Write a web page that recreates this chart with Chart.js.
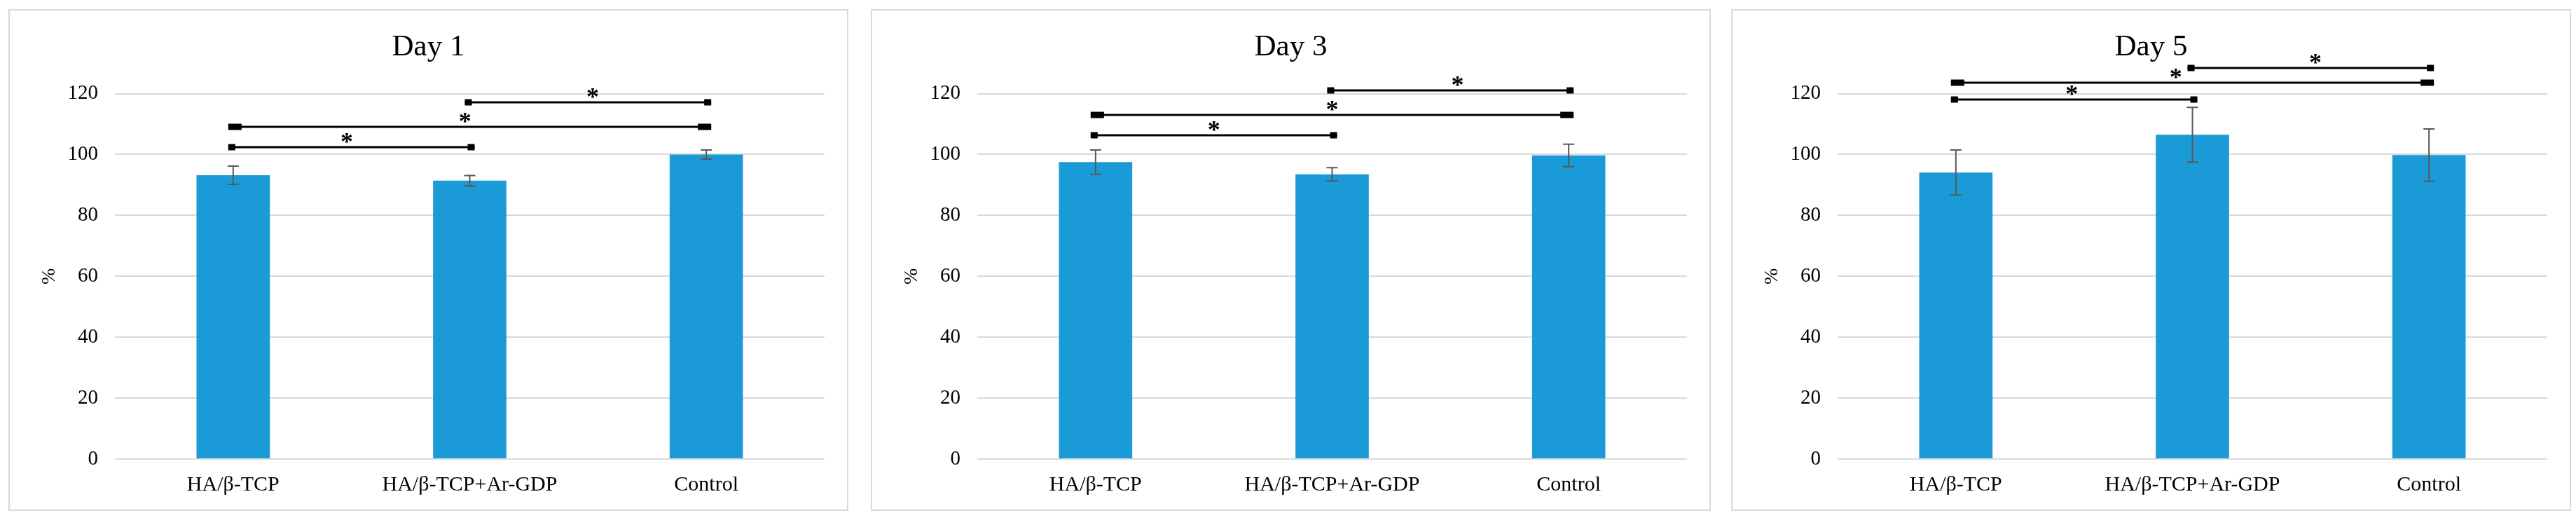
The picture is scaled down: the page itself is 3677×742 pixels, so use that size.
<!DOCTYPE html>
<html lang="en">
<head>
    <meta charset="UTF-8">
    <title>Cell viability Day 1 / Day 3 / Day 5</title>
    <script src="https://cdn.jsdelivr.net/npm/chart.js"></script>
    <style>
        body {
            margin: 0;
            background: #ffffff;
            width: 3677px;
            height: 742px;
            position: relative;
            overflow: hidden;
        }
        .panel {
            position: absolute;
            top: 13px;
            width: 1199px;
            height: 716px;
            border: 2px solid #d9d9d9;
            box-sizing: border-box;
            background: #fff;
        }
        .panel canvas {
            display: block;
        }
    </style>
</head>
<body>

<div class="panel" style="left: 12px;"><canvas id="day1" width="1195" height="712"></canvas></div>
<div class="panel" style="left: 1243px;"><canvas id="day3" width="1195" height="712"></canvas></div>
<div class="panel" style="left: 2471px;"><canvas id="day5" width="1195" height="712"></canvas></div>

<script>
    // data
    const categories = ['HA/β-TCP', 'HA/β-TCP+Ar-GDP', 'Control'];
    const yTicks = [0, 20, 40, 60, 80, 100, 120];

    const day1Values = [93.2, 91.4, 100.0];
    const day1Errors = [3.0, 1.7, 1.5];
    const day3Values = [97.5, 93.5, 99.7];
    const day3Errors = [4.0, 2.2, 3.7];
    const day5Values = [94.1, 106.5, 99.8];
    const day5Errors = [7.4, 9.0, 8.6];

    // significance brackets: [from category, to category, height in %, star position (category units)]
    const day1Brackets = [[0, 1, 102.5, 0.48], [0, 2, 109.2, 0.98], [1, 2, 117.2, 1.52]];
    const day3Brackets = [[0, 1, 106.3, 0.5], [0, 2, 113.0, 1.0], [1, 2, 121.1, 1.53]];
    const day5Brackets = [[0, 1, 118.0, 0.49], [0, 2, 123.7, 0.93], [1, 2, 128.5, 1.52]];

    const barColor = '#1a9bd7';
    const serif = "'Liberation Serif', 'Times New Roman', serif";

    // draws error bars and the * brackets using the chart's own scales
    const annotations = {
        id: 'annotations',
        afterDatasetsDraw(chart, args, opts) {
            const c = chart.ctx;
            const x = chart.scales.x;
            const y = chart.scales.y;
            const vals = chart.data.datasets[0].data;

            c.save();
            // error bars
            c.strokeStyle = '#595959';
            c.lineWidth = 2;
            opts.errors.forEach((e, i) => {
                const cx = x.getPixelForValue(i);
                const top = y.getPixelForValue(vals[i] + e);
                const bot = y.getPixelForValue(vals[i] - e);
                c.beginPath();
                c.moveTo(cx, top); c.lineTo(cx, bot);
                c.moveTo(cx - 8, top); c.lineTo(cx + 8, top);
                c.moveTo(cx - 8, bot); c.lineTo(cx + 8, bot);
                c.stroke();
            });

            // brackets
            c.fillStyle = '#000';
            c.strokeStyle = '#000';
            c.lineWidth = 3;
            opts.brackets.forEach(b => {
                const x1 = x.getPixelForValue(b[0]);
                const x2 = x.getPixelForValue(b[1]);
                const ly = Math.round(y.getPixelForValue(b[2]));
                const w = (b[1] - b[0] > 1) ? 19 : 10;
                c.beginPath();
                c.moveTo(x1 - 7, ly); c.lineTo(x2 + 7, ly);
                c.stroke();
                c.fillRect(x1 - 7, ly - 4.5, w, 9);
                c.fillRect(x2 + 7 - w, ly - 4.5, w, 9);
                // star position between categories
                const sx = x1 + (x2 - x1) * (b[3] - b[0]) / (b[1] - b[0]);
                c.font = 'bold 36px ' + serif;
                c.textAlign = 'center';
                c.textBaseline = 'alphabetic';
                c.fillText('*', sx, ly + 4);
            });
            c.restore();
        }
    };

    function makeChart(id, title, values, errors, brackets) {
        new Chart(document.getElementById(id), {
            type: 'bar',
            data: {
                labels: categories,
                datasets: [{
                    data: values,
                    backgroundColor: barColor,
                    borderWidth: 0,
                    categoryPercentage: 1.0,
                    barPercentage: 0.31
                }]
            },
            options: {
                responsive: false,
                animation: false,
                layout: {
                    padding: { left: 32, right: 32, top: 0, bottom: -2 }
                },
                plugins: {
                    legend: { display: false },
                    tooltip: { enabled: false },
                    title: {
                        display: true,
                        text: title,
                        color: '#000',
                        font: { family: serif, size: 43, weight: 'normal' },
                        padding: { top: 27, bottom: 40 }
                    },
                    annotations: { errors: errors, brackets: brackets }
                },
                scales: {
                    x: {
                        grid: { display: false, drawTicks: false },
                        border: { display: false },
                        ticks: {
                            color: '#000',
                            padding: 19,
                            font: { family: serif, size: 30 }
                        }
                    },
                    y: {
                        min: 0,
                        max: 120,
                        afterBuildTicks(axis) {
                            axis.ticks = yTicks.map(v => ({ value: v }));
                        },
                        afterFit(axis) {
                            axis.width = 118;
                        },
                        grid: { color: '#d9d9d9', lineWidth: 2, drawTicks: false },
                        border: { display: false },
                        ticks: {
                            color: '#000',
                            padding: 24,
                            font: { family: serif, size: 29 }
                        },
                        title: {
                            display: true,
                            text: '%',
                            color: '#000',
                            font: { family: serif, size: 28 },
                            padding: { top: 8, bottom: 8 }
                        }
                    }
                }
            },
            plugins: [annotations]
        });
    }

    makeChart('day1', 'Day 1', day1Values, day1Errors, day1Brackets);
    makeChart('day3', 'Day 3', day3Values, day3Errors, day3Brackets);
    makeChart('day5', 'Day 5', day5Values, day5Errors, day5Brackets);
</script>

</body>
</html>
